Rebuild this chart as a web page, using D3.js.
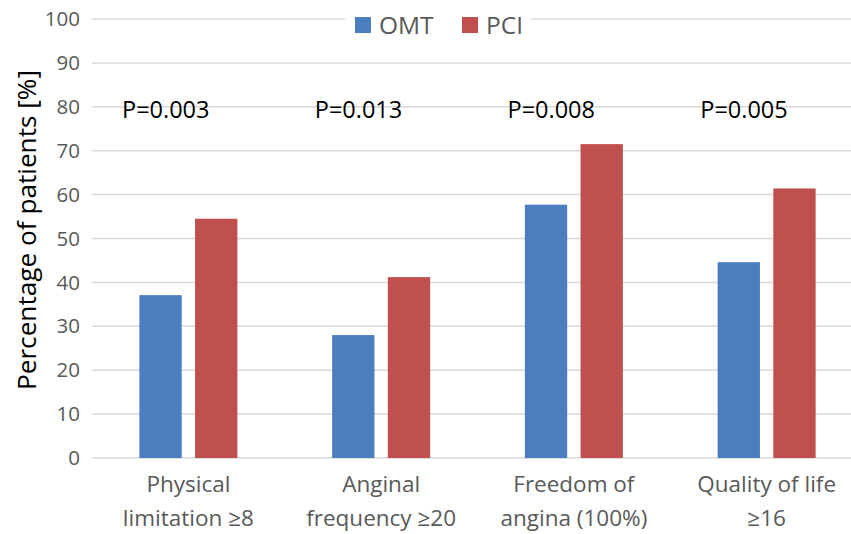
<!DOCTYPE html>
<html><head><meta charset="utf-8">
<script src="https://cdn.jsdelivr.net/npm/d3@7/dist/d3.min.js"></script>
<style>body{margin:0;background:#fff}svg{display:block}</style>
</head><body>
<svg id="c" width="851" height="534"></svg>
<script>
const categories = [["Physical","limitation ≥8"],["Anginal","frequency ≥20"],["Freedom of","angina (100%)"],["Quality of life","≥16"]];
const series = ["OMT","PCI"];
const omt = [37.1, 28.0, 57.7, 44.6];
const pci = [54.5, 41.2, 71.5, 61.4];
const pLabels = ["P=0.003","P=0.013","P=0.008","P=0.005"];
const yTicks = [0,10,20,30,40,50,60,70,80,90,100];
const colors = ["#4A7EBF","#C0504D"];

const svg = d3.select("#c");
const font = "'Open Sans', sans-serif";
const x = d3.scaleBand().domain(d3.range(categories.length)).range([92, 863]);
const y = d3.scaleLinear().domain([0,100]).range([458, 19]);
const xs = d3.scaleBand().domain(series).range([x.bandwidth()/2-49, x.bandwidth()/2+49]).paddingInner(0.24);

// gridlines
svg.append("g").selectAll("line").data(yTicks).join("line")
  .attr("x1",92).attr("x2",851).attr("y1",d=>y(d)).attr("y2",d=>y(d))
  .attr("stroke","#d9d9d9").attr("stroke-width",1.5);

// y tick labels
svg.append("g").selectAll("text").data(yTicks).join("text")
  .attr("x",80).attr("y",d=>y(d)).attr("dy","0.35em").attr("text-anchor","end")
  .attr("font-family",font).attr("font-size",20.5).attr("fill","#595959").text(d=>d);

// y title
svg.append("text").attr("transform","translate(36,230) rotate(-90)").attr("text-anchor","middle")
  .attr("font-family",font).attr("font-size",26.2).attr("fill","#000").text("Percentage of patients [%]");

// bars
const vals = [omt, pci];
const g = svg.append("g").selectAll("g").data(categories).join("g")
  .attr("transform",(d,i)=>`translate(${x(i)},0)`);
g.selectAll("rect").data((d,i)=>series.map((s,k)=>({s,v:vals[k][i],k}))).join("rect")
  .attr("x",d=>xs(d.s)).attr("width",xs.bandwidth())
  .attr("y",d=>y(d.v)).attr("height",d=>y(0)-y(d.v)).attr("fill",d=>colors[d.k]);

// P labels
svg.append("g").selectAll("text").data(pLabels).join("text")
  .attr("x",(d,i)=>x(i)+30).attr("y",118)
  .attr("font-family",font).attr("font-size",23.5).attr("fill","#000").text(d=>d);

// x labels
const xl = svg.append("g").selectAll("text").data(categories).join("text")
  .attr("text-anchor","middle").attr("font-family",font).attr("font-size",22.5).attr("fill","#595959");
xl.selectAll("tspan").data((d,i)=>d.map(t=>({t,i}))).join("tspan")
  .attr("x",d=>x(d.i)+x.bandwidth()/2).attr("y",(d,j)=>492+j*34).text(d=>d.t);

// legend
const lg = svg.append("g");
lg.append("rect").attr("x",345).attr("y",8).attr("width",186).attr("height",32).attr("fill","#fff");
const items = [{s:"OMT",x:355,tx:379},{s:"PCI",x:462,tx:486}];
items.forEach((it,k)=>{
  lg.append("rect").attr("x",it.x).attr("y",17).attr("width",16).attr("height",16).attr("fill",colors[k]);
  lg.append("text").attr("x",it.tx).attr("y",34).attr("font-family",font)
    .attr("font-size",24.5).attr("fill","#595959").text(it.s);
});
</script>
</body></html>
